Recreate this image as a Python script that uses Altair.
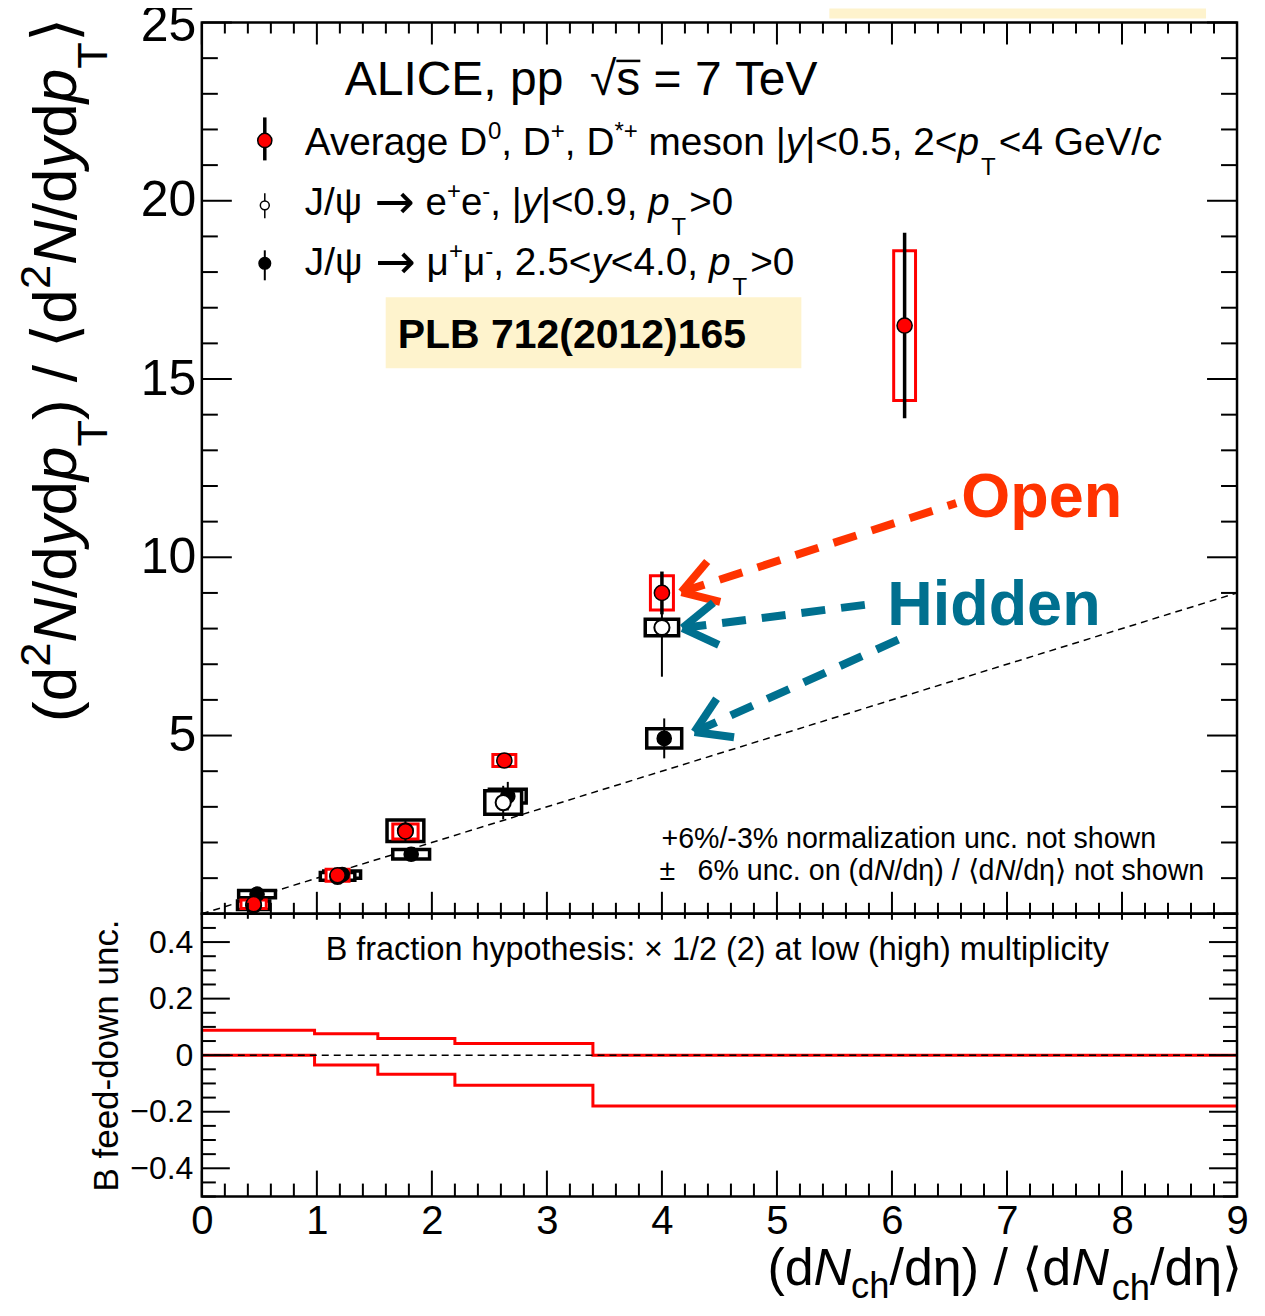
import altair as alt
import pandas as pd
import numpy as np

FONT = "Liberation Sans"
SYMFONT = "DejaVu Sans"
W, HU, HL = 1036, 892, 283
H = HU + HL
RED = "#FF0000"
ORANGE = "#FF3300"
TEAL = "#00708F"
BEIGE = "#FEF3CD"

# ---------------- data ----------------
d_x = [0.45, 1.18, 1.77, 2.63, 4.00, 6.11]
d_y = [0.27, 1.08, 2.31, 4.30, 9.00, 16.50]
d_stat = [0.10, 0.10, 0.15, 0.15, 0.60, 2.60]
d_sys = [0.12, 0.17, 0.21, 0.17, 0.48, 2.10]
d_sysw = [0.11, 0.10, 0.11, 0.10, 0.10, 0.095]

ee_x = [0.45, 1.18, 1.77, 2.62, 4.00]
ee_y = [0.24, 1.05, 2.33, 3.12, 8.03]
ee_stat = [0.10, 0.10, 0.30, 0.47, 1.38]
ee_sys = [0.12, 0.11, 0.30, 0.33, 0.23]
ee_sysw = [0.14, 0.15, 0.16, 0.16, 0.145]

mm_x = [0.48, 1.22, 1.82, 2.66, 4.02]
mm_y = [0.55, 1.10, 1.67, 3.30, 4.92]
mm_stat = [0.10, 0.10, 0.12, 0.40, 0.56]
mm_sys = [0.10, 0.10, 0.13, 0.19, 0.27]
mm_sysw = [0.16, 0.16, 0.16, 0.16, 0.152]

diag_x = [0, 9]
diag_y = [0, 9]

bf_edges = [0.0, 0.98, 1.53, 2.20, 3.40, 9.0]
bf_up = [0.088, 0.076, 0.059, 0.041, 0.0]
bf_lo = [0.0, -0.035, -0.067, -0.106, -0.18]

x_major = list(range(0, 10))
y_major_up = [5, 10, 15, 20, 25]
y_major_lo = [-0.4, -0.2, 0.0, 0.2, 0.4]


def series_df(xs, ys, st, sy, sw):
    return pd.DataFrame({
        "x": xs, "y": ys,
        "ylo": [a - b for a, b in zip(ys, st)], "yhi": [a + b for a, b in zip(ys, st)],
        "blo": [a - b for a, b in zip(ys, sy)], "bhi": [a + b for a, b in zip(ys, sy)],
        "xl": [a - b for a, b in zip(xs, sw)], "xr": [a + b for a, b in zip(xs, sw)],
    })


dfD = series_df(d_x, d_y, d_stat, d_sys, d_sysw)
dfE = series_df(ee_x, ee_y, ee_stat, ee_sys, ee_sysw)
dfM = series_df(mm_x, mm_y, mm_stat, mm_sys, mm_sysw)
dfDiag = pd.DataFrame({"x": diag_x, "y": diag_y})
dfUp = pd.DataFrame({"x": bf_edges, "y": bf_up + [bf_up[-1]]})
dfLo = pd.DataFrame({"x": bf_edges, "y": bf_lo + [bf_lo[-1]]})
dfZero = pd.DataFrame({"x": [0, 9], "y": [0, 0]})
dummy = pd.DataFrame({"a": [0]})

xs = alt.Scale(domain=[0, 9], nice=False, zero=False)
ysU = alt.Scale(domain=[0, 25], range=[HU, 0], nice=False, zero=False)
ysL = alt.Scale(domain=[-0.5, 0.5], range=[H, HU], nice=False, zero=False)

X = lambda f: alt.X(f, type="quantitative", scale=xs, title=None)
YU = lambda f: alt.Y(f, type="quantitative", scale=ysU, title=None)
YL = lambda f: alt.Y(f, type="quantitative", scale=ysL, title=None)
PX = lambda f: alt.X(f, type="quantitative", scale=None, axis=None)
PY = lambda f: alt.Y(f, type="quantitative", scale=None, axis=None)

# ---------------- rich text layout helper ----------------
REG = {' ': 278, '!': 278, '%': 889, '(': 333, ')': 333, '*': 389, '+': 584, ',': 278,
       '-': 333, '.': 278, '/': 278, ':': 278, '<': 584, '=': 584, '>': 584, '|': 260,
       '×': 584, '±': 584, '√': 549, 'ψ': 760, 'η': 556, 'μ': 577,
       '⟨': 390, '⟩': 390}
for c in "0123456789":
    REG[c] = 556
REG.update(dict(zip("ABCDEFGHIJKLMNOPQRSTUVWXYZ",
                    [667, 667, 722, 722, 667, 611, 778, 722, 278, 500, 667, 556, 833, 722, 778,
                     667, 778, 722, 667, 611, 722, 667, 944, 667, 667, 611])))
REG.update(dict(zip("abcdefghijklmnopqrstuvwxyz",
                    [556, 556, 500, 556, 556, 278, 556, 556, 222, 222, 500, 222, 833, 556, 556,
                     556, 556, 333, 500, 278, 556, 500, 722, 500, 500, 500])))
BOLD = dict(REG)
BOLD.update({'L': 611, 'B': 722, 'p': 611, 'n': 611, 'd': 611, 'i': 278})
SYM = {'→': 838, ' ': 318}


def tw(s, table=REG):
    return sum(table.get(c, 556) for c in s) / 1000.0


def rich(x0, y0, size, segs, color="black", angle=0, bold=False,
         sscale=0.62, sup_shift=0.42, sub_shift=0.50):
    if angle == 0:
        ux, uy, vx, vy = 1, 0, 0, -1
    else:
        ux, uy, vx, vy = 0, -1, -1, 0
    out = []
    adv = 0.0
    for seg in segs:
        text, kind = seg[0], seg[1]
        if kind == "gap":
            adv += text * size
            continue
        s, shift, font = size, 0.0, FONT
        table = BOLD if bold else REG
        if kind == "sup":
            s, shift = size * sscale, sup_shift * size
        elif kind == "sub":
            s, shift = size * sscale, -sub_shift * size
        elif kind == "sym":
            font, table = SYMFONT, SYM
        if len(seg) > 2:
            shift = seg[2] * size
        if len(seg) > 3:
            s = seg[3] * size
        lead = len(text) - len(text.lstrip(" "))
        adv += lead * table.get(" ", 278) / 1000.0 * s
        body = text.lstrip(" ")
        out.append(dict(text=body.replace(" ", "\u00a0"),
                        x=x0 + adv * ux + shift * vx, y=y0 + adv * uy + shift * vy,
                        size=s, color=color, angle=angle, font=font,
                        style="italic" if kind == "i" else "normal",
                        weight="bold" if bold else "normal"))
        adv += tw(body, table) * s
    return out


ARROW = [(" ", "n"), ("→", "sym", -0.08, 1.25), (" ", "n")]

rows = []
rows += rich(143, 73, 48, [("ALICE, pp  √s = 7 TeV", "n")])
rows += rich(103, 133, 38.8, [("Average D", "n"), ("0", "sup"), (", D", "n"), ("+", "sup"),
                              (", D", "n"), ("*+", "sup"), (" meson |", "n"), ("y", "i"),
                              ("|<0.5, 2<", "n"), ("p", "i"), (0.05, "gap"), ("T", "sub"),
                              (0.08, "gap"), ("<4 GeV/", "n"), ("c", "i")])
rows += rich(103, 193, 38.5, [("J/ψ", "n")] + ARROW + [("e", "n"), ("+", "sup"), ("e", "n"),
                              ("-", "sup"), (", |", "n"), ("y", "i"), ("|<0.9, ", "n"),
                              ("p", "i"), (0.05, "gap"), ("T", "sub"), (0.08, "gap"),
                              (">0", "n")])
rows += rich(103, 253, 38.8, [("J/ψ", "n")] + ARROW + [("μ", "n"), ("+", "sup"), ("μ", "n"),
                              ("-", "sup"), (", 2.5<", "n"), ("y", "i"), ("<4.0, ", "n"),
                              ("p", "i"), (0.05, "gap"), ("T", "sub"), (0.08, "gap"),
                              (">0", "n")])
rows += rich(196, 326, 41, [("PLB 712(2012)165", "n")], bold=True)
rows += rich(760, 495, 63, [("Open", "n")], color=ORANGE, bold=True)
rows += rich(686, 603, 63, [("Hidden", "n")], color=TEAL, bold=True)
rows += rich(460, 826, 28.6, [("+6%/-3% normalization unc. not shown", "n")])
rows += rich(458, 858, 28.6, [("±", "n"), (0.75, "gap"), ("6% unc. on (d", "n"), ("N", "i"),
                              ("/dη) / ⟨d", "n"), ("N", "i"), ("/dη⟩ not shown", "n")])
rows += rich(124, 938, 32.4, [("B fraction hypothesis: × 1/2 (2) at low (high) multiplicity", "n")])
rows += rich(-84, 1170, 35, [("B feed-down unc.", "n")], angle=270)
rows += rich(-126, 700, 62, [("(d", "n"), ("2", "sup"), ("N", "i"), ("/d", "n"), ("y", "i"),
                             ("d", "n"), ("p", "i"), ("T", "sub"), (") / ⟨d", "n"),
                             ("2", "sup"), ("N", "i"), ("/d", "n"), ("y", "i"), ("d", "n"),
                             ("p", "i"), ("T", "sub"), ("⟩", "n")], angle=270, sscale=0.7)
rows += rich(566, 1264, 52, [("(d", "n"), ("N", "i"), ("ch", "sub", -0.25, 0.7),
                             ("/dη) / ⟨d", "n"), ("N", "i"), (0.05, "gap"),
                             ("ch", "sub", -0.27, 0.7), ("/dη⟩", "n")])
txt = pd.DataFrame(rows)

# overline of the square root in "√s"
ov_x0 = 143 + tw("ALICE, pp  √") * 48
ov_x1 = ov_x0 + tw("s") * 48
dfOver = pd.DataFrame({"x": [ov_x0], "x2": [ov_x1], "y": [73 - 0.72 * 48]})


def text_layers():
    out = []
    for (font, style, weight), sub in txt.groupby(["font", "style", "weight"]):
        out.append(alt.Chart(sub).mark_text(font=font, fontStyle=style, fontWeight=weight,
                                            align="left", baseline="alphabetic").encode(
            x=PX("x"), y=PY("y"), text="text:N",
            size=alt.Size("size:Q", scale=None, legend=None),
            color=alt.Color("color:N", scale=None, legend=None),
            angle=alt.Angle("angle:Q", scale=None, legend=None)))
    return out


# ---------------- arrows (annotation geometry, pixels) ----------------
def arrow(tip, tail, color, head=40, half=32):
    tx, ty = tip
    dx, dy = tail[0] - tx, tail[1] - ty
    ang = np.arctan2(dy, dx)
    segs = []
    for s in (+1, -1):
        a = ang + s * np.radians(half)
        segs.append(dict(x=tx, y=ty, x2=tx + head * np.cos(a), y2=ty + head * np.sin(a),
                         color=color))
    shaft = dict(x=tx, y=ty, x2=tail[0], y2=tail[1], color=color)
    return segs, shaft


heads, shafts = [], []
for tip, tail, col in [((480, 570), (755, 481), ORANGE),
                       ((481, 606), (678, 581), TEAL),
                       ((493, 710), (705, 614), TEAL)]:
    h, s = arrow(tip, tail, col)
    heads += h
    shafts.append(s)
dfHeads = pd.DataFrame(heads)
dfShafts = pd.DataFrame(shafts)


def seg_layer(df, dash=None):
    kw = dict(strokeWidth=8, strokeCap="butt")
    if dash:
        kw["strokeDash"] = dash
    return alt.Chart(df).mark_rule(**kw).encode(
        x=PX("x"), y=PY("y"), x2="x2:Q", y2="y2:Q",
        color=alt.Color("color:N", scale=None, legend=None))


# ---------------- ticks ----------------
def minor_vals(lo, hi, step, major_step):
    v = np.round(np.arange(lo, hi + 1e-9, step), 4)
    return [float(a) for a in v if abs(a / major_step - round(a / major_step)) > 1e-6]


x_minor = minor_vals(0, 9, 0.2, 1)
yU_major_t = [0, 5, 10, 15, 20, 25]
yU_minor = minor_vals(0, 25, 1, 5)
yL_major_t = [-0.4, -0.2, 0.0, 0.2, 0.4]
yL_minor = minor_vals(-0.5, 0.5, 0.05, 0.2)


def xtick(vals, y0, length):
    return alt.Chart(pd.DataFrame({"x": vals})).mark_rule(color="black", strokeWidth=2).encode(
        x=X("x:Q"), y=alt.value(y0), y2=alt.value(y0 + length))


def ytick(vals, sc, x0, length):
    return alt.Chart(pd.DataFrame({"y": vals})).mark_rule(color="black", strokeWidth=2).encode(
        y=alt.Y("y:Q", scale=sc, title=None), x=alt.value(x0), x2=alt.value(x0 + length))


# ---------------- upper panel ----------------
def box(df, color, sw):
    return alt.Chart(df).mark_rect(fill="white", stroke=color, strokeWidth=sw).encode(
        x=X("xl:Q"), x2="xr:Q", y=YU("blo:Q"), y2="bhi:Q")


def bars(df, sw):
    return alt.Chart(df).mark_rule(color="black", strokeWidth=sw).encode(
        x=X("x:Q"), y=YU("ylo:Q"), y2="yhi:Q")


def markers(df, fill, size, sw):
    return alt.Chart(df).mark_point(shape="circle", filled=True, fill=fill, stroke="black",
                                    strokeWidth=sw, size=size, opacity=1).encode(
        x=X("x:Q"), y=YU("y:Q"))


legend_pts = pd.DataFrame({"x": [63, 63, 63], "y": [118, 183, 241],
                           "fill": ["#FF0000", "white", "black"],
                           "size": [200, 80, 135],
                           "y1": [95, 171, 228], "y2": [138, 196, 258],
                           "w": [3.5, 1.5, 2]})

upper_layers = [
    alt.Chart(dummy).mark_rect(fill=BEIGE).encode(
        x=alt.value(184), x2=alt.value(600), y=alt.value(275), y2=alt.value(346)),
    alt.Chart(dummy).mark_rect(fill=BEIGE).encode(
        x=alt.value(628), x2=alt.value(1005), y=alt.value(-14), y2=alt.value(-4)),
    alt.Chart(dfDiag).mark_line(color="black", strokeWidth=1.5, strokeDash=[7, 5]).encode(
        x=X("x:Q"),
        y=alt.Y("y:Q", scale=ysU, title=None,
                axis=alt.Axis(values=y_major_up, orient="left", ticks=False, domain=False,
                              grid=False, labelFontSize=50, labelFont=FONT, labelColor="black",
                              labelPadding=6, format="d", title=None, labelOverlap=False,
                              labelOffset={"condition": {"test": "datum.value == 25",
                                                         "value": 3}, "value": 0}))),
    box(dfM, "black", 3.5),
    box(dfE, "black", 3.5),
    box(dfD, RED, 3),
    bars(dfM, 2),
    bars(dfE, 2),
    bars(dfD, 3.5),
    markers(dfM, "black", 200, 1.5),
    markers(dfE, "white", 230, 2),
    markers(dfD, RED, 230, 1.5),
    alt.Chart(legend_pts).mark_rule(color="black").encode(
        x=PX("x"), y=PY("y1"), y2="y2:Q",
        strokeWidth=alt.StrokeWidth("w:Q", scale=None, legend=None)),
    alt.Chart(legend_pts).mark_point(shape="circle", filled=True, stroke="black",
                                     strokeWidth=1.5, opacity=1).encode(
        x=PX("x"), y=PY("y"), fill=alt.Fill("fill:N", scale=None, legend=None),
        size=alt.Size("size:Q", scale=None, legend=None)),
    alt.Chart(dfOver).mark_rule(color="black", strokeWidth=2.5).encode(
        x=PX("x"), x2="x2:Q", y=PY("y")),
    seg_layer(dfShafts, dash=[24, 16]),
    seg_layer(dfHeads),
    alt.Chart(dummy).mark_rect(filled=False, stroke="black", strokeWidth=2.5).encode(
        x=alt.value(0), x2=alt.value(W), y=alt.value(0), y2=alt.value(HU)),
    xtick(x_major, 0, 22), xtick(x_minor, 0, 11),
    xtick(x_major, HU, -22), xtick(x_minor, HU, -11),
    ytick(yU_major_t, ysU, 0, 30), ytick(yU_minor, ysU, 0, 16),
    ytick(yU_major_t, ysU, W, -30), ytick(yU_minor, ysU, W, -16),
]
upper = alt.layer(*upper_layers)

# ---------------- lower panel ----------------
lower_layers = [
    alt.Chart(dfUp).mark_line(color=RED, strokeWidth=3, interpolate="step-after").encode(
        x=alt.X("x:Q", scale=xs, title=None,
                axis=alt.Axis(values=x_major, ticks=False, domain=False, grid=False,
                              labelFontSize=40, labelFont=FONT, labelColor="black",
                              labelPadding=5, labelFlush=False, labelOverlap=False,
                              format="d", title=None)),
        y=alt.Y("y:Q", scale=ysL, title=None,
                axis=alt.Axis(values=y_major_lo, orient="left", ticks=False, domain=False,
                              grid=False, labelFontSize=32, labelFont=FONT,
                              labelColor="black", labelPadding=9, labelOverlap=False,
                              labelExpr="datum.value == 0 ? '0' : format(datum.value, '.1f')",
                              title=None))),
    alt.Chart(dfLo).mark_line(color=RED, strokeWidth=3, interpolate="step-after").encode(
        x=X("x:Q"), y=YL("y:Q")),
    alt.Chart(dfZero).mark_line(color="black", strokeWidth=1.5, strokeDash=[7, 5]).encode(
        x=X("x:Q"), y=YL("y:Q")),
    alt.Chart(dummy).mark_rect(filled=False, stroke="black", strokeWidth=2.5).encode(
        x=alt.value(0), x2=alt.value(W), y=alt.value(HU), y2=alt.value(H)),
    xtick(x_major, H, -26), xtick(x_minor, H, -13),
    xtick(x_major, HU, 6), xtick(x_minor, HU, 5),
    ytick(yL_major_t, ysL, 0, 28), ytick(yL_minor, ysL, 0, 14),
    ytick(yL_major_t, ysL, W, -28), ytick(yL_minor, ysL, W, -14),
] + text_layers()
lower = alt.layer(*lower_layers)

chart = alt.layer(upper, lower).resolve_scale(y="independent").properties(
    width=W, height=H,
    autosize=alt.AutoSizeParams(type="none"),
    padding={"left": 194, "top": 14, "right": 20, "bottom": 110},
).configure_view(stroke=None).configure_axis(
    grid=False, ticks=False, domain=False, labelFont=FONT, labelColor="black")

chart.save("out.html", embed_options={"renderer": "svg", "actions": False})
